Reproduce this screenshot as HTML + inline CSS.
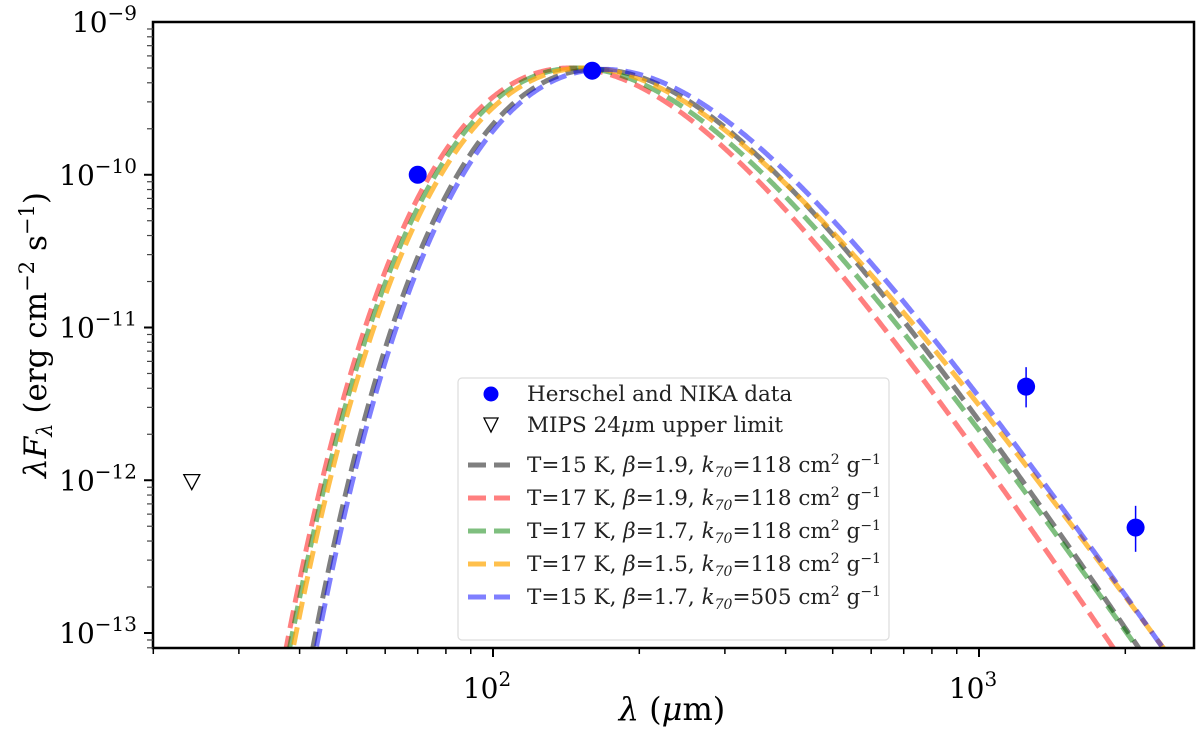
<!DOCTYPE html>
<html><head><meta charset="utf-8">
<style>
html,body{margin:0;padding:0;background:#fff;overflow:hidden;width:1200px;height:740px;}
svg{display:block;font-family:"DejaVu Serif","Liberation Serif",serif;}
</style></head>
<body>
<svg id="chart" width="1200" height="740" viewBox="0 0 1200 740"></svg>
<script>
// ---- data ----
const modelLabels = ["T=15 K", "T=17 K", "T=17 K", "T=17 K", "T=15 K"];
const modelT = [15, 17, 17, 17, 15];
const modelBeta = [1.9, 1.9, 1.7, 1.5, 1.7];
const modelKappa = [118, 118, 118, 118, 505];
const modelPeak = [4.9e-10, 5.0e-10, 5.0e-10, 5.0e-10, 4.9e-10];
const modelColors = ["rgba(0,0,0,0.5)", "rgba(255,0,0,0.5)", "rgba(0,128,0,0.5)", "rgba(255,165,0,0.7)", "rgba(0,0,255,0.5)"];
const dataWave = [70, 160, 1250, 2100];
const dataFlux = [1.0e-10, 4.8e-10, 4.1e-12, 4.9e-13];
const dataErrLo = [0, 0, 3.0e-12, 3.4e-13];
const dataErrHi = [0, 0, 5.5e-12, 6.8e-13];
const ulWave = [24];
const ulFlux = [9.8e-13];
const xTickVals = [100, 1000];
const xTickExp = ["2", "3"];
const yTickVals = [1e-9, 1e-10, 1e-11, 1e-12, 1e-13];
const yTickExp = ["\u22129", "\u221210", "\u221211", "\u221212", "\u221213"];

// ---- axes ----
const L = 153, R = 1194, T = 22, B = 648;
const xMinLog = 2 - 340 / 486, xDec = 486;
function xs(v) { return L + (Math.log10(v) - xMinLog) * xDec; }
const yDec = 152.75;
function ys(v) { return T + (-9 - Math.log10(v)) * yDec; }
const NS = "http://www.w3.org/2000/svg";
const svg = document.getElementById('chart');
function el(tag, attrs, parent) {
  const e = document.createElementNS(NS, tag);
  for (const k in attrs) e.setAttribute(k, attrs[k]);
  (parent || svg).appendChild(e);
  return e;
}
const defs = el('defs', {});
const cp = el('clipPath', {id: 'clip'}, defs);
el('rect', {x: L, y: T, width: R - L, height: B - T}, cp);

// model curves
function model(lam, i) {
  const x = 14388 / (lam * modelT[i]);
  return Math.pow(x, 4 + modelBeta[i]) / (Math.exp(x) - 1);
}
const gCurves = el('g', {'clip-path': 'url(#clip)'});


for (let i = 0; i < modelT.length; i++) {
  let mx = 0;
  for (let l = 20; l < 3000; l *= 1.005) mx = Math.max(mx, model(l, i));
  let d = "";
  for (let l = 30; l < 3000; l *= 1.005) {
    const f = model(l, i) / mx * modelPeak[i];
    d += (d ? "L" : "M") + xs(l).toFixed(2) + "," + ys(f).toFixed(2);
  }
  const p = el('path', {d: d, fill: 'none', stroke: modelColors[i], 'stroke-width': 5, 'stroke-dasharray': '18,8'}, gCurves);
  
  
}

// data points
for (let i = 0; i < dataWave.length; i++) {
  if (dataErrLo[i] > 0) {
    const e = el('line', {x1: xs(dataWave[i]), x2: xs(dataWave[i]), y1: ys(dataErrLo[i]), y2: ys(dataErrHi[i]), stroke: '#0000ff', 'stroke-width': 1.5});
    
    
  }
  const c = el('circle', {cx: xs(dataWave[i]), cy: ys(dataFlux[i]), r: 9, fill: '#0000ff'});
  
  
}
for (let i = 0; i < ulWave.length; i++) {
  const x = xs(ulWave[i]), y = ys(ulFlux[i]);
  const t = el('polygon', {points: `${x-8},${y-7} ${x+8},${y-7} ${x},${y+8}`, fill: 'none', stroke: '#000', 'stroke-width': 1.3});
  
  
}

// frame
const fr = el('rect', {x: L, y: T, width: R - L, height: B - T, fill: 'none', stroke: '#000', 'stroke-width': 2.5});



// x ticks
for (let dec = 10; dec <= 1000; dec *= 10) {
  for (let m = 1; m <= 9; m++) {
    const v = dec * m;
    const x = xs(v);
    if (x < L - 0.5 || x > R + 0.5) continue;
    const major = (m === 1);
    el('line', {x1: x, x2: x, y1: B, y2: B + (major ? 9 : 6), stroke: '#000', 'stroke-width': major ? 2 : 1.5});
  }
}
for (let i = 0; i < xTickVals.length; i++) {
  const t = el('text', {x: xs(xTickVals[i]) - 6, y: B + 50, 'text-anchor': 'middle', 'font-size': 28, fill: '#000'});
  
  
  t.innerHTML = '10<tspan dy="-12" font-size="20">' + xTickExp[i] + '</tspan>';
}
// y ticks
for (let e = -14; e <= -10; e++) {
  for (let m = 1; m <= 9; m++) {
    const v = m * Math.pow(10, e);
    const y = ys(v);
    if (y < T - 0.5 || y > B + 0.5) continue;
    const major = (m === 1);
    el('line', {x1: L, x2: L - (major ? 9 : 6), y1: y, y2: y, stroke: major ? '#000' : '#444', 'stroke-width': major ? 2 : 1.2});
  }
}
for (let i = 0; i < yTickVals.length; i++) {
  const t = el('text', {x: 137, y: ys(yTickVals[i]) + 10, 'text-anchor': 'end', 'font-size': 28, fill: '#000'});
  
  
  t.innerHTML = '10<tspan dy="-12" font-size="20">' + yTickExp[i] + '</tspan>';
}

// axis titles
const xt = el('text', {x: 672, y: 720, 'text-anchor': 'middle', 'font-size': 32, fill: '#000'});


xt.innerHTML = '<tspan font-style="italic">λ</tspan> (<tspan font-style="italic">μ</tspan>m)';
const yt = el('text', {x: 0, y: 0, transform: 'translate(46,335) rotate(-90)', 'text-anchor': 'middle', 'font-size': 31, fill: '#000'});


yt.innerHTML = '<tspan font-style="italic">λF</tspan><tspan font-style="italic" font-size="21" dy="6">λ</tspan><tspan dy="-6"> (erg cm</tspan><tspan dy="-12" font-size="21">−2</tspan><tspan dy="12"> s</tspan><tspan dy="-12" font-size="21">−1</tspan><tspan dy="12">)</tspan>';

// legend
const lg = el('g', {});


el('rect', {x: 458, y: 378, width: 431, height: 262, rx: 4, fill: 'rgba(255,255,255,0.85)', stroke: '#ddd', 'stroke-width': 1.2}, lg);
const rowY = [394, 425, 457, 490, 523, 556, 589, 622];
function legText(y, html) {
  const t = el('text', {x: 527, y: y + 7, 'font-size': 21.5, fill: '#222'}, lg);
  t.innerHTML = html;
  return t;
}
el('circle', {cx: 491, cy: rowY[0], r: 7.5, fill: '#0000ff'}, lg);
legText(rowY[0], 'Herschel and NIKA data');
el('polygon', {points: `${484},${rowY[1]-7} ${498},${rowY[1]-7} ${491},${rowY[1]+7}`, fill: 'none', stroke: '#000', 'stroke-width': 1.3}, lg);
legText(rowY[1], 'MIPS 24<tspan font-style="italic">μ</tspan>m upper limit');
for (let i = 0; i < modelT.length; i++) {
  const y = rowY[i + 2] + 8;
  el('line', {x1: 468, x2: 510, y1: y, y2: y, stroke: modelColors[i], 'stroke-width': 5, 'stroke-dasharray': '18,8'}, lg);
  const t = legText(y, modelLabels[i] + ', <tspan font-style="italic">β</tspan>=' + modelBeta[i].toFixed(1) + ', <tspan font-style="italic">k</tspan><tspan font-size="14" dy="5" font-style="italic">70</tspan><tspan dy="-5">=' + modelKappa[i] + ' cm</tspan><tspan font-size="14" dy="-8">2</tspan><tspan dy="8"> g</tspan><tspan font-size="14" dy="-8">−1</tspan>');
  
}
</script>
</body></html>
